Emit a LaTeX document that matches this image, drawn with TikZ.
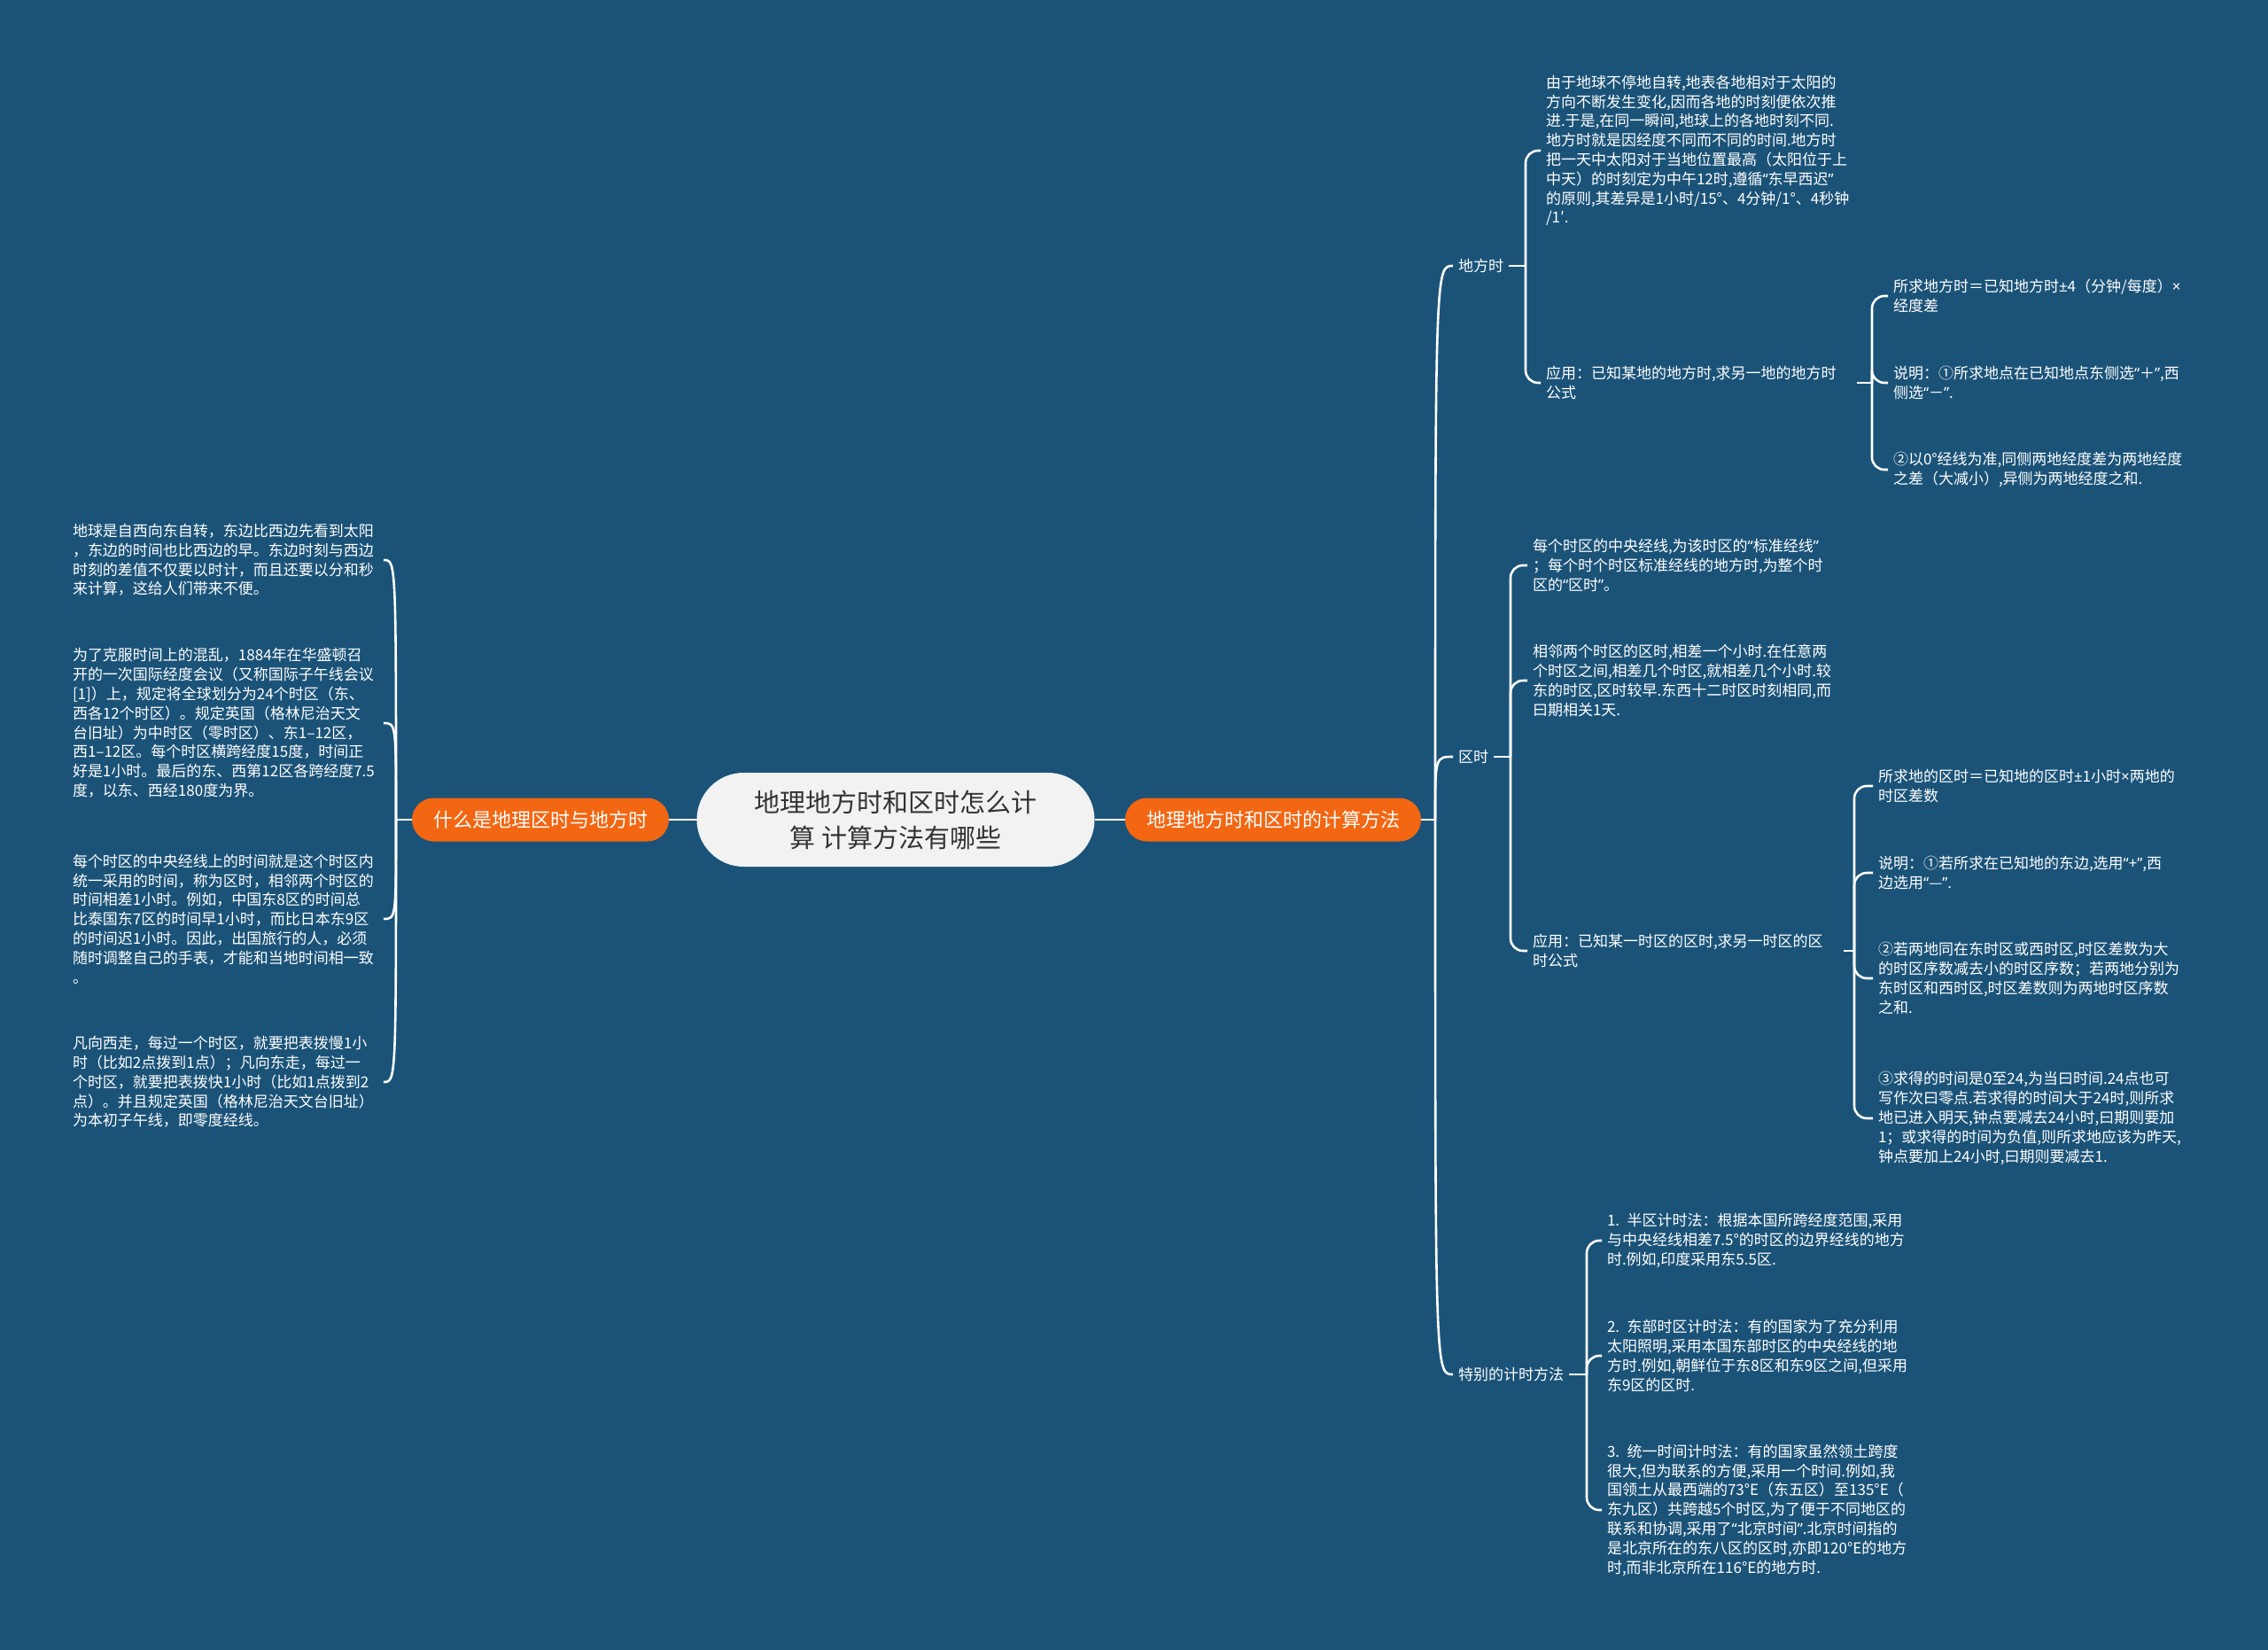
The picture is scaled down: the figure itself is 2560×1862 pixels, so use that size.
\documentclass[tikz,border=0pt]{standalone}
\usepackage{fontspec}
\setmainfont{Noto Sans CJK SC}
\newfontfamily\cjk{Noto Sans CJK SC}
\newfontfamily\latf{Noto Sans}
\newcommand\qo{{\latf “}}
\newcommand\qc{{\latf ”}}
\newcommand\pmx{{\latf ±}}
\newcommand\tms{{\latf ×}}
\definecolor{bg}{RGB}{27,83,120}
\definecolor{orng}{RGB}{243,102,18}
\definecolor{ctr}{RGB}{242,242,242}
\definecolor{ctrtxt}{RGB}{51,51,51}
\begin{document}
\begin{tikzpicture}[x=0.5pt,y=-0.5pt,
  conn/.style={draw=white, line width=1.3pt},
  brk/.style={conn, rounded corners=7pt},
  body/.style={text=white, font=\cjk\fontsize{8.5pt}{10.9pt}\selectfont, align=left, text width=172.5pt, inner xsep=3pt, inner ysep=0pt, outer sep=0pt, anchor=west},
  lbl/.style={text=white, font=\cjk\fontsize{8.5pt}{10.5pt}\selectfont, inner xsep=3pt, inner ysep=2pt, outer sep=0pt, anchor=west},
  mainnode/.style={fill=orng, text=white, font=\cjk\fontsize{11pt}{13pt}\selectfont, rounded corners=12.25pt, minimum height=24.5pt, inner xsep=12pt, outer sep=0pt},
  rootnode/.style={fill=ctr, text=ctrtxt, font=\cjk\fontsize{14.5pt}{20pt}\selectfont, align=center, minimum width=224.5pt, minimum height=53pt, rounded corners=26.5pt, outer sep=0pt}
]
\fill[bg] (0,0) rectangle (2560,1862);
\useasboundingbox (0,0) rectangle (2560,1862);

% central nodes
\node[rootnode] (C) at (1011,925) {地理地方时和区时怎么计\\算 计算方法有哪些};
\node[mainnode] (L) at (610,925) {什么是地理区时与地方时};
\node[mainnode] (R) at (1437,925) {地理地方时和区时的计算方法};
\draw[conn] (C.west) -- (L.east);
\draw[conn] (C.east) -- (R.west);

% left side
\node[body] (L1) at (76,632) {地球是自西向东自转，东边比西边先看到太阳\\，东边的时间也比西边的早。东边时刻与西边\\时刻的差值不仅要以时计，而且还要以分和秒\\来计算，这给人们带来不便。};
\node[body] (L2) at (76,816) {为了克服时间上的混乱，1884年在华盛顿召\\开的一次国际经度会议（又称国际子午线会议\\{[}1{]}）上，规定将全球划分为24个时区（东、\\西各12个时区）。规定英国（格林尼治天文\\台旧址）为中时区（零时区）、东1–12区，\\西1–12区。每个时区横跨经度15度，时间正\\好是1小时。最后的东、西第12区各跨经度7.5\\度，以东、西经180度为界。};
\node[body] (L3) at (76,1037) {每个时区的中央经线上的时间就是这个时区内\\统一采用的时间，称为区时，相邻两个时区的\\时间相差1小时。例如，中国东8区的时间总\\比泰国东7区的时间早1小时，而比日本东9区\\的时间迟1小时。因此，出国旅行的人，必须\\随时调整自己的手表，才能和当地时间相一致\\。};
\node[body] (L4) at (76,1221) {凡向西走，每过一个时区，就要把表拨慢1小\\时（比如2点拨到1点）；凡向东走，每过一\\个时区，就要把表拨快1小时（比如1点拨到2\\点）。并且规定英国（格林尼治天文台旧址）\\为本初子午线，即零度经线。};
\draw[conn] (L.west) -- ++(-18,0) coordinate (lj);
\foreach \n in {L1,L2,L3,L4}
  \draw[conn] (lj) .. controls (lj |- \n.east) and (lj |- \n.east) .. (\n.east);

% right side level 1
\draw[conn] (R.east) -- ++(16,0) coordinate (rj);
\node[lbl] (DF) at (1640,300) {地方时};
\node[lbl] (QS) at (1640,854) {区时};
\node[lbl] (TB) at (1640,1551) {特别的计时方法};
\foreach \n in {DF,QS,TB}
  \draw[conn] (rj) .. controls (rj |- \n.west) and (rj |- \n.west) .. (\n.west);

% 地方时
\node[body] (DF1) at (1739,170) {由于地球不停地自转,地表各地相对于太阳的\\方向不断发生变化,因而各地的时刻便依次推\\进.于是,在同一瞬间,地球上的各地时刻不同.\\地方时就是因经度不同而不同的时间.地方时\\把一天中太阳对于当地位置最高（太阳位于上\\中天）的时刻定为中午12时,遵循\qo{}东早西迟\qc{}\\的原则,其差异是1小时/15°、4分钟/1°、4秒钟\\/1′.};
\node[body] (DF2) at (1739,432) {应用：已知某地的地方时,求另一地的地方时\\公式};
\draw[conn] (DF.east) -- ++(19,0) coordinate (dfj);
\draw[brk] (dfj) |- (DF1.west);
\draw[brk] (dfj) |- (DF2.west);

\node[body] (DF21) at (2131,334) {所求地方时＝已知地方时\pmx{}4（分钟/每度）\tms{}\\经度差};
\node[body] (DF22) at (2131,432) {说明：①所求地点在已知地点东侧选\qo{}＋\qc{},西\\侧选\qo{}－\qc{}.};
\node[body] (DF23) at (2131,530) {②以0°经线为准,同侧两地经度差为两地经度\\之差（大减小）,异侧为两地经度之和.};
\draw[conn] (DF2.east) -- ++(17,0) coordinate (df2j);
\foreach \n in {DF21,DF22,DF23}
  \draw[brk] (df2j) |- (\n.west);

% 区时
\node[body] (QS1) at (1724,638) {每个时区的中央经线,为该时区的\qo{}标准经线\qc{}\\；每个时个时区标准经线的地方时,为整个时\\区的\qo{}区时\qc{}。};
\node[body] (QS2) at (1724,768) {相邻两个时区的区时,相差一个小时.在任意两\\个时区之间,相差几个时区,就相差几个小时.较\\东的时区,区时较早.东西十二时区时刻相同,而\\曰期相关1天.};
\node[body] (QS3) at (1724,1073) {应用：已知某一时区的区时,求另一时区的区\\时公式};
\draw[conn] (QS.east) -- ++(19,0) coordinate (qsj);
\foreach \n in {QS1,QS2,QS3}
  \draw[brk] (qsj) |- (\n.west);

\node[body] (QS31) at (2114,887) {所求地的区时＝已知地的区时\pmx{}1小时\tms{}两地的\\时区差数};
\node[body] (QS32) at (2114,985) {说明：①若所求在已知地的东边,选用\qo{}+\qc{},西\\边选用\qo{}—\qc{}.};
\node[body] (QS33) at (2114,1104) {②若两地同在东时区或西时区,时区差数为大\\的时区序数减去小的时区序数；若两地分别为\\东时区和西时区,时区差数则为两地时区序数\\之和.};
\node[body] (QS34) at (2114,1262) {③求得的时间是0至24,为当曰时间.24点也可\\写作次曰零点.若求得的时间大于24时,则所求\\地已进入明天,钟点要减去24小时,曰期则要加\\1；或求得的时间为负值,则所求地应该为昨天,\\钟点要加上24小时,曰期则要减去1.};
\draw[conn] (QS3.east) -- ++(12,0) coordinate (qs3j);
\foreach \n in {QS31,QS32,QS33,QS34}
  \draw[brk] (qs3j) |- (\n.west);

% 特别的计时方法
\node[body] (TB1) at (1808,1400) {1.\hspace{0.5em}半区计时法：根据本国所跨经度范围,采用\\与中央经线相差7.5°的时区的边界经线的地方\\时.例如,印度采用东5.5区.};
\node[body] (TB2) at (1808,1530) {2.\hspace{0.5em}东部时区计时法：有的国家为了充分利用\\太阳照明,采用本国东部时区的中央经线的地\\方时.例如,朝鲜位于东8区和东9区之间,但采用\\东9区的区时.};
\node[body] (TB3) at (1808,1704) {3.\hspace{0.5em}统一时间计时法：有的国家虽然领土跨度\\很大,但为联系的方便,采用一个时间.例如,我\\国领土从最西端的73°E（东五区）至135°E（\\东九区）共跨越5个时区,为了便于不同地区的\\联系和协调,采用了\qo{}北京时间\qc{}.北京时间指的\\是北京所在的东八区的区时,亦即120°E的地方\\时,而非北京所在116°E的地方时.};
\draw[conn] (TB.east) -- ++(20,0) coordinate (tbj);
\foreach \n in {TB1,TB2,TB3}
  \draw[brk] (tbj) |- (\n.west);
\end{tikzpicture}
\end{document}
